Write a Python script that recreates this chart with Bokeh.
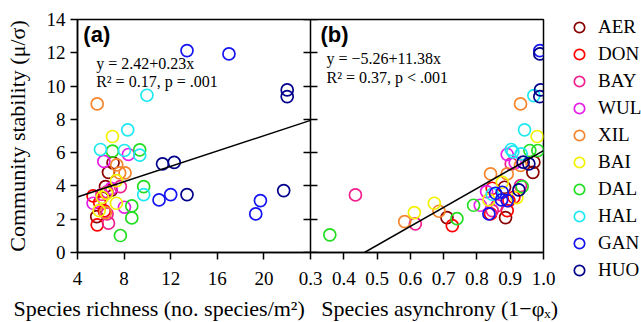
from bokeh.plotting import figure
from bokeh.models import (Range1d, LinearAxis, FixedTicker, Legend, LegendItem,
                          Label, Title, CustomJSTickFormatter)
from bokeh.embed import file_html
from bokeh.resources import INLINE

# ---------------- data ----------------
sites = ["AER", "DON", "BAY", "WUL", "XIL", "BAI", "DAL", "HAL", "GAN", "HUO"]
site_colors = ["#8B0000", "#FF0000", "#F0208C", "#E81CE8", "#F5862E",
               "#F2F200", "#22DD22", "#1EE8F0", "#1414F0", "#00008B"]

# panel (a): species richness vs community stability
richness = {
    "AER": [7.05, 6.66, 6.40, 5.65, 6.90],
    "DON": [5.34, 5.69, 6.30, 5.90],
    "BAY": [6.54, 6.54, 6.66, 7.68, 6.10],
    "WUL": [8.37, 6.26, 5.34, 8.03, 6.90],
    "XIL": [5.69, 7.37, 7.62, 8.08, 6.40],
    "BAI": [7.00, 7.34, 6.14, 7.34, 5.86, 6.50],
    "DAL": [7.00, 9.34, 9.68, 8.66, 8.66, 7.68],
    "HAL": [8.31, 5.97, 8.03, 9.34, 9.68, 9.96],
    "GAN": [13.4, 17.0, 11.0, 12.0, 19.3, 19.7],
    "HUO": [22.0, 22.0, 11.3, 12.3, 13.4, 21.7],
}
stability_a = {
    "AER": [5.39, 4.82, 3.96, 2.16, 3.75],
    "DON": [3.40, 1.66, 2.50, 3.00],
    "BAY": [3.65, 2.32, 1.76, 3.96, 3.50],
    "WUL": [5.89, 5.47, 2.96, 2.72, 3.85],
    "XIL": [8.93, 5.27, 4.78, 4.78, 2.40],
    "BAI": [6.97, 4.32, 3.32, 2.96, 2.52, 3.55],
    "DAL": [6.09, 6.17, 3.96, 2.80, 2.08, 1.02],
    "HAL": [7.37, 6.19, 6.13, 5.85, 3.48, 9.45],
    "GAN": [12.13, 11.93, 3.16, 3.48, 2.32, 3.12],
    "HUO": [9.77, 9.37, 5.33, 5.41, 3.48, 3.72],
}

# panel (b): species asynchrony vs community stability
asynchrony = {
    "AER": [0.710, 0.971, 0.968, 0.883, 0.886],
    "DON": [0.726, 0.846, 0.911, 0.896, 0.891, 0.841],
    "BAY": [0.435, 0.615, 0.903, 0.931, 0.846, 0.861],
    "WUL": [0.810, 0.891, 0.915, 0.829],
    "XIL": [0.583, 0.686, 0.931, 0.931, 0.891, 0.841],
    "BAI": [0.612, 0.672, 0.981, 0.876, 0.836, 0.920],
    "DAL": [0.358, 0.740, 0.790, 0.959, 0.983, 0.936],
    "HAL": [0.971, 0.943, 0.903, 0.933, 0.846, 0.908],
    "GAN": [0.989, 0.856, 0.876, 0.874, 0.891, 0.836],
    "HUO": [0.989, 0.991, 0.989, 0.939, 0.956, 0.926],
}
stability_b = {
    "AER": [2.10, 5.43, 4.82, 3.92, 2.10],
    "DON": [1.62, 3.86, 3.32, 3.12, 2.52, 2.32],
    "BAY": [3.46, 1.72, 5.33, 4.02, 2.52, 2.82],
    "WUL": [2.84, 5.89, 5.40, 3.66],
    "XIL": [1.86, 2.48, 8.93, 5.23, 4.72, 4.72],
    "BAI": [2.40, 2.96, 6.97, 4.22, 3.16, 3.30],
    "DAL": [1.06, 2.04, 2.84, 6.13, 6.13, 3.96],
    "HAL": [9.43, 7.37, 6.19, 5.93, 3.50, 6.05],
    "GAN": [12.13, 3.56, 3.62, 3.16, 3.12, 2.32],
    "HUO": [11.93, 9.77, 9.37, 5.43, 5.33, 3.76],
}

fit_a = (2.42, 0.23)      # intercept, slope
fit_b = (-5.26, 11.38)
a_xlim = (4, 24)
b_xlim = (0.3, 1.0)
y_lim = (0, 14)
a_xticks = [4, 8, 12, 16, 20]
b_xticks = [0.3, 0.4, 0.5, 0.6, 0.7, 0.8, 0.9, 1.0]
y_ticks = [0, 2, 4, 6, 8, 10, 12, 14]

eq_a = ["y = 2.42+0.23x", "R² = 0.17, p = .001"]
eq_b = ["y = −5.26+11.38x", "R² = 0.37, p < .001"]
xlabel_a = "Species richness (no. species/m²)"
xlabel_b = "Species asynchrony (1−φₓ)"
ylabel = "Community stability (μ/σ)"

SERIF = "Liberation Serif"

# ---------------- figure ----------------
# panel (a) occupies the left half of the frame, panel (b) the right half
x_rng = Range1d(a_xlim[0], 2 * a_xlim[1] - a_xlim[0])
b_rng = Range1d(2 * b_xlim[0] - b_xlim[1], b_xlim[1])

p = figure(frame_width=466, frame_height=233,
           min_border_left=77, min_border_top=19, min_border_bottom=68,
           min_border_right=98,
           x_range=x_rng, y_range=Range1d(*y_lim),
           output_backend="svg", toolbar_location=None,
           background_fill_color="white", border_fill_color="white")
p.extra_x_ranges = {"b": b_rng}
p.grid.visible = False
p.outline_line_color = "black"
p.outline_line_width = 1.5


def style_axis(ax):
    ax.axis_line_color = "black"
    ax.axis_line_width = 1.5
    ax.major_tick_line_color = "black"
    ax.major_tick_line_width = 1.5
    ax.major_tick_out = 7
    ax.major_tick_in = 0
    ax.minor_tick_out = 0
    ax.minor_tick_in = 0
    ax.major_label_text_font = SERIF
    ax.major_label_text_color = "black"
    ax.major_label_text_font_size = "19px"
    ax.major_label_standoff = 5


# one shared bottom axis: panel (b) tick values are placed through the
# linear map between the two x ranges, and labelled with their own values
a_span = a_xlim[1] - a_xlim[0]
b_span = b_xlim[1] - b_xlim[0]
b_tick_pos = [round(a_xlim[1] + (v - b_xlim[0]) * a_span / b_span, 9) for v in b_xticks]
xa = p.xaxis[0]
xa.ticker = FixedTicker(ticks=a_xticks + b_tick_pos)
xa.major_label_overrides = {pos: "%.1f" % v for pos, v in zip(b_tick_pos, b_xticks)}
style_axis(xa)
xa.major_label_standoff = 12

ya = p.yaxis[0]
ya.ticker = FixedTicker(ticks=y_ticks)
style_axis(ya)
ya.axis_label = ylabel
ya.axis_label_text_font = SERIF
ya.axis_label_text_font_style = "normal"
ya.axis_label_text_font_size = "22px"
ya.axis_label_text_color = "black"
ya.axis_label_standoff = 14

# left axis of panel (b), drawn on the panel divider
yb = LinearAxis(ticker=FixedTicker(ticks=y_ticks), fixed_location=a_xlim[1],
                formatter=CustomJSTickFormatter(code="return ''"))
style_axis(yb)
yb.major_tick_in = 7
yb.major_label_standoff = 0
p.add_layout(yb, "left")

# ---------------- points ----------------
legend_renderers = []
for s, c in zip(sites, site_colors):
    r = p.scatter(x=richness[s], y=stability_a[s], marker="circle", size=12,
                  fill_color=None, line_color=c, line_width=1.7)
    legend_renderers.append(r)
    p.scatter(x=asynchrony[s], y=stability_b[s], marker="circle", size=12,
              fill_color=None, line_color=c, line_width=1.7, x_range_name="b")

# ---------------- regression lines ----------------
xs_a = list(a_xlim)
p.line(xs_a, [fit_a[0] + fit_a[1] * v for v in xs_a], line_color="black", line_width=1.5)
xs_b = [-fit_b[0] / fit_b[1], b_xlim[1]]
p.line(xs_b, [fit_b[0] + fit_b[1] * v for v in xs_b], line_color="black",
       line_width=1.5, x_range_name="b")

# ---------------- texts ----------------
p.add_layout(Label(x=4.5, y=13.1, text="(a)", text_font="Liberation Sans",
                   text_font_style="bold", text_font_size="22px", text_color="black",
                   text_baseline="middle", text_align="left"))
p.add_layout(Label(x=0.33, y=13.1, x_range_name="b", text="(b)",
                   text_font="Liberation Sans", text_font_style="bold", text_color="black",
                   text_font_size="22px", text_baseline="middle", text_align="left"))
for i, t in enumerate(eq_a):
    p.add_layout(Label(x=5.6, y=11.35 - 1.08 * i, text=t, text_font=SERIF,
                       text_font_size="16px", text_color="black",
                       text_baseline="middle", text_align="left"))
for i, t in enumerate(eq_b):
    p.add_layout(Label(x=0.348, y=11.65 - 1.12 * i, x_range_name="b", text=t,
                       text_font=SERIF, text_font_size="16px", text_color="black",
                       text_baseline="middle", text_align="left"))

# x-axis titles of both panels on one line below the shared axis
p.add_layout(Title(text=xlabel_a + "\u00a0\u00a0\u00a0" + xlabel_b, align="left",
                   offset=-64, standoff=12, text_font=SERIF, text_font_size="22px",
                   text_font_style="normal", text_color="black"), "below")

# ---------------- legend ----------------
items = [LegendItem(label=s, renderers=[r]) for s, r in zip(sites, legend_renderers)]
legend = Legend(items=items, location=(22, -31), glyph_width=28, glyph_height=26,
                spacing=1, padding=0, margin=0, label_standoff=5,
                label_text_font=SERIF, label_text_font_size="19px",
                label_text_color="black", label_height=26,
                border_line_color=None, background_fill_alpha=0)
p.add_layout(legend, "right")

open("out.html", "w").write(file_html(p, INLINE))
